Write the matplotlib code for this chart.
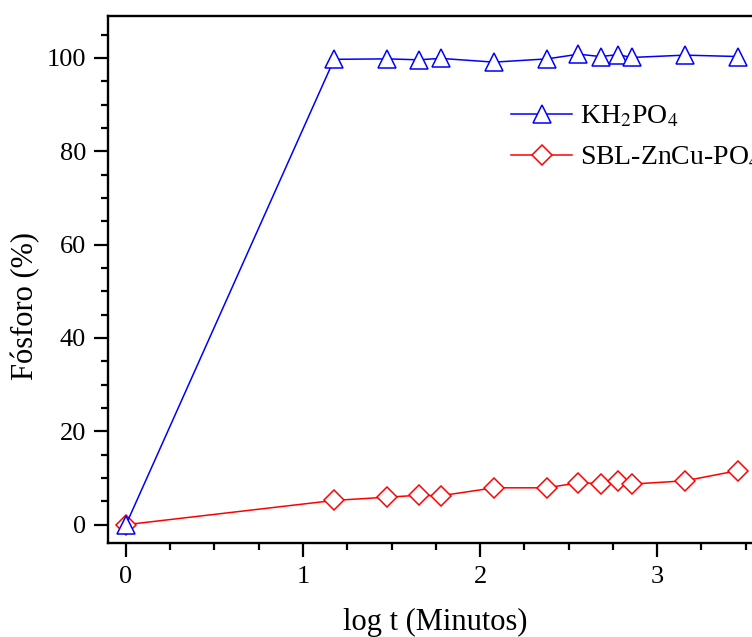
import numpy as np
import matplotlib
matplotlib.use("Agg")
import matplotlib.pyplot as plt
from matplotlib.ticker import MultipleLocator

plt.rcParams['font.family'] = ['Liberation Serif', 'DejaVu Serif']
plt.rcParams['mathtext.fontset'] = 'stix'

# log10 of time in minutes
log_t = [0, 1.176, 1.477, 1.653, 1.778, 2.079, 2.380, 2.556, 2.681, 2.778, 2.857, 3.158, 3.459]

# phosphorus released (%)
kh2po4 = [0, 99.7, 99.8, 99.6, 99.9, 99.1, 99.8, 100.8, 100.3, 100.7, 100.1, 100.6, 100.3]
sbl_zncu = [0, 5.2, 5.9, 6.3, 6.2, 7.9, 7.9, 9.0, 8.8, 9.4, 8.7, 9.4, 11.6]

labels = ['KH$_2$PO$_4$', 'SBL-ZnCu-PO$_4$']

fig = plt.figure(figsize=(7.52, 6.37), dpi=100)
# axes run past the right edge of the picture, like the original crop
ax = fig.add_axes([0.144, 0.147, 0.918, 0.828])

ax.plot(log_t, sbl_zncu, color='#ff0000', lw=1.1, marker='D', ms=9.8,
        mfc='white', mec='#ff0000', mew=1.1, label=labels[1], zorder=3)
ax.plot(log_t, kh2po4, color='#0000ff', lw=1.1, marker='^', ms=12.5,
        mfc='white', mec='#0000ff', mew=1.1, label=labels[0], zorder=4)

ax.set_xlim(-0.1, 3.8)
ax.set_ylim(-4, 109)

ax.xaxis.set_major_locator(MultipleLocator(1))
ax.xaxis.set_minor_locator(MultipleLocator(0.25))
ax.yaxis.set_major_locator(MultipleLocator(20))
ax.yaxis.set_minor_locator(MultipleLocator(5))

ax.tick_params(which='major', direction='out', length=10, width=1.6, labelsize=19, pad=6)
ax.tick_params(which='minor', direction='out', length=5, width=1.6)
ax.tick_params(top=False, right=False)
for side in ax.spines.values():
    side.set_linewidth(1.7)

ax.set_xlabel('log t (Minutos)', fontsize=22)
ax.set_ylabel('Fósforo (%)', fontsize=22)
ax.xaxis.set_label_coords(0.473, -0.123)
ax.yaxis.set_label_coords(-0.099, 0.45)

# legend order: KH2PO4 first
h, l = ax.get_legend_handles_labels()
ax.legend([h[1], h[0]], [l[1], l[0]], loc='upper left',
          bbox_to_anchor=(511 / 752, 1 - 104 / 637), bbox_transform=fig.transFigure,
          frameon=False, fontsize=20, handlelength=2.2, handletextpad=0.3,
          labelspacing=0.55, borderpad=0, borderaxespad=0)

fig.savefig('out.png', dpi=100)
